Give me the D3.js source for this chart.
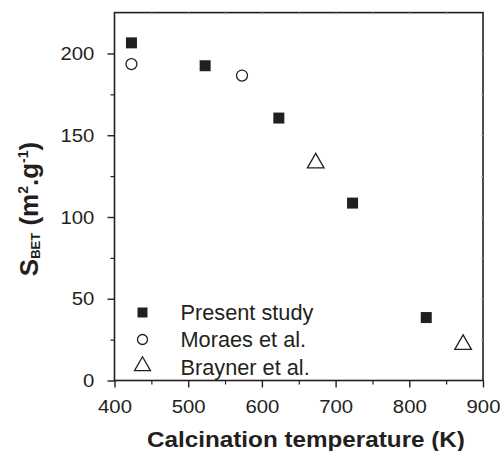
<!DOCTYPE html>
<html><head><meta charset="utf-8">
<script src="https://cdn.jsdelivr.net/npm/d3@7"></script>
<style>body{margin:0;background:#fff}svg{display:block}text{font-family:"Liberation Sans",Arial,sans-serif;fill:#231f20}</style>
</head><body><svg id="c" width="500" height="451"></svg>
<script>
const presentX=[423,523,623,723,823];
const presentY=[206.5,192.5,160.5,108.5,38.5];
const moraesX=[423,573];
const moraesY=[193.5,186.5];
const braynerX=[673,873];
const braynerY=[133,22];
const xTicks=[400,500,600,700,800,900];
const yTicks=[0,50,100,150,200];
const legendLabels=["Present study","Moraes et al.","Brayner et al."];

const svg=d3.select("#c");
const L=114.5,R=483,T=12.6,B=380.5;
const x=d3.scaleLinear().domain([400,900]).range([L,R]);
const y=d3.scaleLinear().domain([0,225]).range([B,T]);
const ink="#231f20";

// frame
svg.append("rect").attr("x",L).attr("y",T).attr("width",R-L).attr("height",B-T).attr("fill","none").attr("stroke",ink).attr("stroke-width",1.6);

// bottom axis
const xa=svg.append("g").attr("transform",`translate(0,${B})`).call(d3.axisBottom(x).tickValues(xTicks).tickSize(7).tickPadding(11.6).tickFormat(d3.format("d")));
xa.select(".domain").remove();
xa.selectAll("line").attr("stroke",ink).attr("stroke-width",1.4);
xa.selectAll("text").style("font-size","19px").attr("fill",ink).attr("transform","scale(1.07,1)");
const xmin=svg.append("g").attr("transform",`translate(0,${B})`).call(d3.axisBottom(x).tickValues(d3.range(450,900,100)).tickSize(4).tickFormat(""));
xmin.select(".domain").remove();xmin.selectAll("line").attr("stroke",ink).attr("stroke-width",1.2);

// left axis
const ya=svg.append("g").attr("transform",`translate(${L},0)`).call(d3.axisLeft(y).tickValues(yTicks).tickSize(7).tickPadding(13));
ya.select(".domain").remove();
ya.selectAll("line").attr("stroke",ink).attr("stroke-width",1.4);
ya.selectAll("text").style("font-size","19px").attr("fill",ink).attr("x",0).attr("transform","translate(-20.2,0) scale(1.07,1)");
const ymin=svg.append("g").attr("transform",`translate(${L},0)`).call(d3.axisLeft(y).tickValues(d3.range(25,225,50)).tickSize(4).tickFormat(""));
ymin.select(".domain").remove();ymin.selectAll("line").attr("stroke",ink).attr("stroke-width",1.2);

// faint top/right ticks
const ta=svg.append("g").attr("transform",`translate(0,${T})`).call(d3.axisBottom(x).tickValues(d3.range(450,900,50)).tickSize(2).tickFormat(""));
ta.select(".domain").remove();ta.selectAll("line").attr("stroke","#bbb");
const ra=svg.append("g").attr("transform",`translate(${R},0)`).call(d3.axisRight(y).tickValues(d3.range(25,225,25)).tickSize(2).tickFormat(""));
ra.select(".domain").remove();ra.selectAll("line").attr("stroke","#bbb").attr("transform","translate(-2,0)");

// symbols
const sq=d3.symbol().type(d3.symbolSquare).size(121);
const ci=d3.symbol().type(d3.symbolCircle).size(Math.PI*5.5*5.5);
const tr=d3.symbol().type(d3.symbolTriangle).size(120);
const g=svg.append("g");
g.selectAll(".p").data(presentX).join("path").attr("d",sq).attr("transform",(d,i)=>`translate(${x(d)},${y(presentY[i])})`).attr("fill",ink);
g.selectAll(".m").data(moraesX).join("path").attr("d",ci).attr("transform",(d,i)=>`translate(${x(d)},${y(moraesY[i])})`).attr("fill","#fff").attr("stroke",ink).attr("stroke-width",1.3);
g.selectAll(".b").data(braynerX).join("path").attr("d",tr).attr("transform",(d,i)=>`translate(${x(d)},${y(braynerY[i])})`).attr("fill","#fff").attr("stroke",ink).attr("stroke-width",1.3);

// legend
const legSyms=[d3.symbol().type(d3.symbolSquare).size(100)(),d3.symbol().type(d3.symbolCircle).size(Math.PI*25)(),d3.symbol().type(d3.symbolTriangle).size(110)()];
const lg=svg.append("g");
legendLabels.forEach((t,i)=>{
  const cy=312.5+i*27;
  lg.append("path").attr("d",legSyms[i]).attr("transform",`translate(142.5,${cy+(i==2?-0.5:0)})`).attr("fill",i==0?ink:"#fff").attr("stroke",ink).attr("stroke-width",i==0?0:1.3);
  lg.append("text").attr("transform",`translate(180.5,${320+i*27.3}) scale(0.966,1)`).style("font-size","22.5px").text(t);
});

// x title
svg.append("text").attr("transform","translate(306,446.5) scale(1.128,1)").attr("text-anchor","middle").style("font-size","21.5px").style("font-weight","bold").text("Calcination temperature (K)");

// y title
const yt=svg.append("text").attr("transform","translate(38,209) rotate(-90)").attr("text-anchor","middle").style("font-weight","bold").style("font-size","26px");
yt.append("tspan").text("S");
yt.append("tspan").style("font-size","13px").attr("dy",1.5).text("BET");
yt.append("tspan").attr("dy",-1.5).text(" (m");
yt.append("tspan").style("font-size","14px").attr("dy",-10).text("2");
yt.append("tspan").attr("dy",10).text(".g");
yt.append("tspan").style("font-size","14px").attr("dy",-10).text("-1");
yt.append("tspan").attr("dy",10).text(")");
</script></body></html>
